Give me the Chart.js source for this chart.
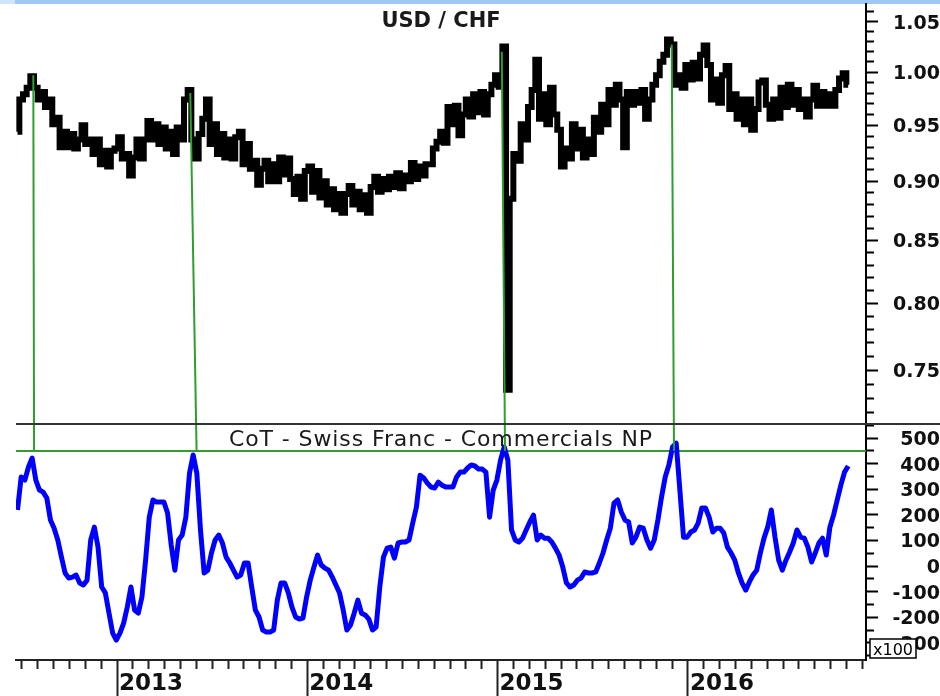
<!DOCTYPE html>
<html>
<head>
<meta charset="utf-8">
<title>USD / CHF - CoT Swiss Franc Commercials NP</title>
<script src="https://cdn.jsdelivr.net/npm/chart.js@4.4.1/dist/chart.umd.min.js"></script>
<style>
  html, body { margin: 0; padding: 0; background: #fff; }
  #wrap { position: relative; width: 940px; height: 696px; overflow: hidden; }
</style>
</head>
<body>
<div id="wrap"><canvas id="chart"></canvas></div>
<script>
// ── data: weekly samples, x in decimal years ─────────────────
const weekStart = 2012.477;
const weekStep = 1 / 52;

// USD / CHF
const priceValues = [
  0.944, 0.974, 0.979, 0.985, 0.996, 0.985, 0.974, 0.981, 0.967, 0.974,
  0.951, 0.957, 0.930, 0.944, 0.930, 0.942, 0.929, 0.937, 0.950, 0.933,
  0.937, 0.924, 0.937, 0.915, 0.927, 0.913, 0.927, 0.929, 0.939, 0.920,
  0.924, 0.905, 0.921, 0.937, 0.920, 0.937, 0.954, 0.937, 0.951, 0.933,
  0.948, 0.929, 0.944, 0.924, 0.948, 0.937, 0.974, 0.983, 0.937, 0.920,
  0.942, 0.956, 0.974, 0.933, 0.951, 0.924, 0.942, 0.921, 0.937, 0.920,
  0.939, 0.944, 0.915, 0.933, 0.911, 0.918, 0.897, 0.911, 0.918, 0.900,
  0.915, 0.900, 0.921, 0.906, 0.920, 0.902, 0.889, 0.904, 0.885, 0.909,
  0.913, 0.891, 0.909, 0.886, 0.900, 0.880, 0.893, 0.876, 0.889, 0.873,
  0.889, 0.896, 0.880, 0.891, 0.876, 0.888, 0.873, 0.895, 0.904, 0.891,
  0.902, 0.893, 0.904, 0.895, 0.907, 0.894, 0.905, 0.900, 0.916, 0.902,
  0.913, 0.905, 0.915, 0.915, 0.929, 0.935, 0.944, 0.934, 0.967, 0.951,
  0.968, 0.941, 0.960, 0.974, 0.958, 0.979, 0.962, 0.981, 0.960, 0.979,
  0.988, 0.997, 0.986, 1.025, 0.736, 0.885, 0.924, 0.918, 0.951, 0.937,
  0.967, 0.983, 1.012, 0.956, 0.979, 0.951, 0.985, 0.960, 0.946, 0.913,
  0.929, 0.920, 0.951, 0.929, 0.946, 0.921, 0.937, 0.924, 0.957, 0.944,
  0.969, 0.951, 0.983, 0.969, 0.988, 0.974, 0.930, 0.981, 0.969, 0.981,
  0.971, 0.983, 0.956, 0.974, 0.988, 0.997, 1.010, 1.017, 1.032, 1.027,
  0.988, 0.997, 0.985, 1.007, 0.993, 1.009, 0.994, 1.017, 1.026, 1.007,
  0.974, 0.993, 0.971, 0.997, 1.006, 0.965, 0.979, 0.956, 0.974, 0.951,
  0.974, 0.946, 0.965, 0.990, 0.992, 0.969, 0.956, 0.974, 0.957, 0.985,
  0.967, 0.988, 0.969, 0.983, 0.965, 0.974, 0.958, 0.974, 0.987, 0.968,
  0.981, 0.968, 0.979, 0.968, 0.983, 0.994, 0.999, 0.988
];

// CoT Swiss Franc commercials net position (x100 contracts)
const cotValues = [
  219, 348, 336, 387, 422, 336, 297, 289, 266, 180,
  148, 102, 35, -27, -47, -43, -35, -66, -74, -55,
  102, 152, 74, -82, -105, -184, -262, -289, -262, -223,
  -160, -82, -172, -184, -121, 23, 191, 258, 250, 250,
  250, 207, 82, -16, 102, 121, 191, 363, 434, 363,
  141, -27, -16, 51, 102, 121, 90, 35, 12, -16,
  -43, -35, 12, 12, -82, -172, -199, -250, -258, -258,
  -250, -133, -66, -66, -105, -160, -199, -207, -203, -121,
  -55, -4, 43, 4, -8, -16, -43, -74, -105, -172,
  -250, -230, -184, -133, -184, -191, -207, -250, -238, -82,
  35, 70, 74, 31, 90, 94, 94, 102, 168, 230,
  355, 344, 324, 309, 305, 328, 316, 309, 309, 309,
  348, 367, 367, 383, 395, 391, 379, 379, 367, 191,
  297, 336, 414, 465, 414, 141, 102, 94, 109, 141,
  172, 199, 102, 121, 109, 109, 94, 70, 43, -4,
  -66, -82, -74, -55, -47, -23, -27, -27, -23, 12,
  51, 102, 148, 246, 258, 211, 180, 172, 90, 113,
  152, 148, 102, 70, 102, 180, 270, 348, 395, 465,
  480, 297, 113, 113, 133, 141, 168, 227, 227, 191,
  133, 148, 148, 129, 74, 51, 23, -27, -66, -94,
  -62, -35, -16, 51, 109, 152, 219, 113, 23, -16,
  23, 55, 90, 141, 113, 109, 74, 16, 51, 90,
  109, 43, 152, 199, 258, 316, 367, 391
];

// green signal lines: price peak -> CoT peak
const signalPriceDate  = [2012.560, 2013.385, 2015.022, 2015.915];
const signalPriceValue = [0.997, 0.980, 1.020, 1.027];
const signalCotDate    = [2012.564, 2013.418, 2015.039, 2015.927];
const cotSignalLevel = 450;

// axes
const xRange = [2012.469, 2016.936];
const priceRange = [0.712, 1.068];
const cotRange = [-367, 555];
const years = [2013, 2014, 2015, 2016];
const priceLabels = [0.75, 0.80, 0.85, 0.90, 0.95, 1.00, 1.05];
const cotLabels = [-300, -200, -100, 0, 100, 200, 300, 400, 500];

const monthTicks = [];
for (let y = 2012; y <= 2016; y++) {
  for (let m = 0; m < 12; m++) {
    const v = y + m / 12;
    if (v >= xRange[0] && v <= xRange[1]) monthTicks.push(v);
  }
}
const priceTicks = [];
for (let k = 72; k <= 106; k++) priceTicks.push(k / 100);
const cotTicks = [];
for (let v = -350; v <= 550; v += 50) cotTicks.push(v);

const near = (a, b) => Math.abs(a - b) < 1e-6;
const toPoints = vals => vals.map((v, i) => ({ x: weekStart + i * weekStep, y: v }));

const FONT = 'DejaVu Sans';
const minorDash = len => c => (c.tick && c.tick.label ? [] : [len, 80]);

function fitY(s) { s.width = 74; s.paddingTop = 0; s.paddingBottom = 0; s.paddingLeft = 0; s.paddingRight = 0; }
function fitX(s) { s.height = 36; s.paddingTop = 0; s.paddingBottom = 0; s.paddingLeft = 0; s.paddingRight = 0; }

const yAxisCommon = {
  position: 'right',
  stack: 'panels',
  offset: false,
  border: { display: true, color: '#000', width: 2 },
  grid: { drawOnChartArea: false, drawTicks: true, tickLength: 12, tickWidth: 2, tickColor: '#000', tickBorderDash: minorDash(7) },
  ticks: { autoSkip: false, crossAlign: 'far', padding: 10, labelOffset: 2, color: '#111',
           font: { family: FONT, size: 19, weight: 'bold' } },
  afterFit: fitY
};

// ── decorations drawn through the scales ─────────────────────
const decor = {
  id: 'decor',
  beforeDraw(chart) {
    const ctx = chart.ctx;
    ctx.save();
    ctx.fillStyle = '#9fc7f6';
    ctx.fillRect(0, 0, chart.width, 4);
    ctx.fillStyle = '#cfe3fb';
    ctx.fillRect(0, 0, 15, 4);
    ctx.restore();
  },
  afterDatasetsDraw(chart) {
    const { ctx, scales: { x, yPrice, yCot } } = chart;
    ctx.save();
    ctx.strokeStyle = '#2e9e2e';
    ctx.lineWidth = 2;
    ctx.beginPath();
    signalPriceDate.forEach((d, i) => {
      ctx.moveTo(x.getPixelForValue(d), yPrice.getPixelForValue(signalPriceValue[i]));
      ctx.lineTo(x.getPixelForValue(signalCotDate[i]), yCot.getPixelForValue(cotSignalLevel));
    });
    ctx.stroke();
    ctx.restore();
  },
  afterDraw(chart) {
    const { ctx, chartArea: a, scales: { yPrice } } = chart;
    const cx = (a.left + a.right) / 2;
    ctx.save();
    // panel separator
    ctx.strokeStyle = '#333';
    ctx.lineWidth = 2;
    ctx.beginPath();
    ctx.moveTo(a.left, yPrice.bottom);
    ctx.lineTo(chart.width, yPrice.bottom);
    ctx.stroke();
    // titles
    ctx.fillStyle = '#1a1a1a';
    ctx.textAlign = 'center';
    ctx.textBaseline = 'alphabetic';
    ctx.font = 'bold 21px "' + FONT + '"';
    ctx.fillText('USD / CHF', cx, a.top + 23);
    ctx.font = '22px "' + FONT + '"';
    ctx.letterSpacing = '0.9px';
    ctx.fillText('CoT - Swiss Franc - Commercials NP', cx, yPrice.bottom + 22);
    ctx.letterSpacing = '0px';
    // x100 unit box
    const bx = a.right + 4, by = a.bottom - 21;
    ctx.fillStyle = '#fff';
    ctx.fillRect(bx, by, 46, 19);
    ctx.strokeStyle = '#000';
    ctx.lineWidth = 1.5;
    ctx.strokeRect(bx, by, 46, 19);
    ctx.fillStyle = '#000';
    ctx.textAlign = 'left';
    ctx.font = '16px "' + FONT + '"';
    ctx.fillText('x100', bx + 3, by + 16);
    ctx.restore();
  }
};

new Chart(document.getElementById('chart'), {
  type: 'line',
  data: {
    datasets: [
      { label: 'USD / CHF', data: toPoints(priceValues), yAxisID: 'yPrice', order: 3,
        borderColor: '#000', borderWidth: 6, stepped: 'middle', borderJoinStyle: 'miter',
        pointRadius: 0, tension: 0 },
      { label: 'Signal level', data: [{ x: xRange[0], y: cotSignalLevel }, { x: xRange[1], y: cotSignalLevel }],
        yAxisID: 'yCot', order: 2, borderColor: '#2e9e2e', borderWidth: 2, pointRadius: 0 },
      { label: 'CoT - Swiss Franc - Commercials NP', data: toPoints(cotValues), yAxisID: 'yCot', order: 1,
        borderColor: '#0000ff', borderWidth: 5, borderJoinStyle: 'round', pointRadius: 0, tension: 0 }
    ]
  },
  options: {
    responsive: true,
    maintainAspectRatio: false,
    animation: false,
    layout: { padding: { left: 16, top: 4, right: 0, bottom: 0 } },
    plugins: { legend: { display: false }, tooltip: { enabled: false } },
    scales: {
      x: {
        type: 'linear',
        min: xRange[0], max: xRange[1],
        offset: false,
        border: { display: true, color: '#222', width: 2 },
        grid: { drawOnChartArea: false, drawTicks: true, tickLength: 36, tickWidth: 2, tickColor: '#222', tickBorderDash: minorDash(8) },
        afterBuildTicks: s => { s.ticks = monthTicks.map(v => ({ value: v })); },
        ticks: {
          autoSkip: false, maxRotation: 0, minRotation: 0, align: 'start', labelOffset: 2, padding: -23,
          color: '#111', font: { family: FONT, size: 23, weight: 'bold', lineHeight: 1 },
          callback: v => { const y = years.find(yr => near(yr, v)); return y ? String(y) : ''; }
        },
        afterFit: fitX
      },
      yPrice: Object.assign({}, yAxisCommon, {
        type: 'logarithmic',
        min: priceRange[0], max: priceRange[1],
        stackWeight: 420,
        afterBuildTicks: s => { s.ticks = priceTicks.map(v => ({ value: v })); },
        ticks: Object.assign({}, yAxisCommon.ticks, {
          callback: v => (priceLabels.some(p => near(p, v)) ? v.toFixed(2) : '')
        })
      }),
      yCot: Object.assign({}, yAxisCommon, {
        type: 'linear',
        min: cotRange[0], max: cotRange[1],
        stackWeight: 236,
        afterBuildTicks: s => { s.ticks = cotTicks.map(v => ({ value: v })); },
        ticks: Object.assign({}, yAxisCommon.ticks, {
          callback: v => (cotLabels.includes(v) ? String(v) : '')
        })
      })
    }
  },
  plugins: [decor]
});
</script>
</body>
</html>
